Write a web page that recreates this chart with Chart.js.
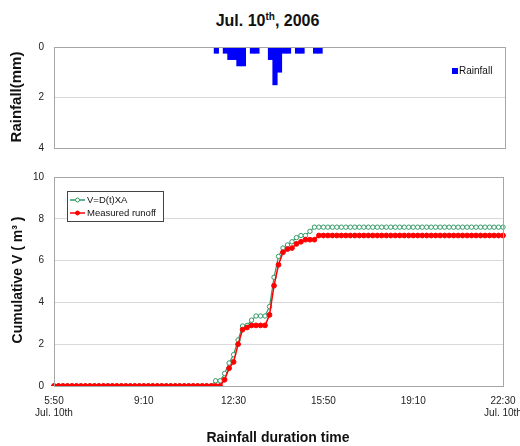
<!DOCTYPE html>
<html>
<head>
<meta charset="utf-8">
<script src="https://cdn.jsdelivr.net/npm/chart.js@4"></script>
<style>
  body { margin: 0; background: #fff; }
  #wrap { position: relative; width: 520px; height: 446px; overflow: hidden; background: #fff;
          font-family: "Liberation Sans", Arial, sans-serif; color: #111; }
  canvas { position: absolute; left: 0; }
  .lbl { position: absolute; white-space: nowrap; font-weight: bold; }
  .rot { transform: translate(-50%, -50%) rotate(-90deg); }
  #title { left: 0; width: 535px; text-align: center; top: 12px; font-size: 16px; line-height: 18px; }
  #title sup { font-size: 10px; vertical-align: 6px; line-height: 0; }
</style>
</head>
<body>
<div id="wrap">
  <div id="title" class="lbl">Jul. 10<sup>th</sup>, 2006</div>
  <canvas id="rainChart" width="520" height="160" style="top:0"></canvas>
  <canvas id="runoffChart" width="520" height="286" style="top:160px"></canvas>
  <div class="lbl rot" style="left:15px; top:97px; font-size:15px;">Rainfall(mm)</div>
  <div class="lbl rot" style="left:17px; top:280px; font-size:14px;">Cumulative V ( m³ )</div>
  <div class="lbl" style="left:278px; top:437px; transform:translate(-50%,-50%); font-size:14px;">Rainfall duration time</div>
</div>
<script>
// 10-minute steps from 5:50 to 22:30 (101 points)
const categories = [];
for (let m = 350; m <= 1350; m += 10) {
    categories.push(Math.floor(m / 60) + ':' + String(m % 60).padStart(2, '0'));
}
const tickLabels = [['5:50', 'Jul. 10th'], '9:10', '12:30', '15:50', '19:10', ['22:30', 'Jul. 10th']];

// Rainfall (mm) per 10 min
const rainfall = [
    0, 0, 0, 0, 0, 0, 0, 0, 0, 0,
    0, 0, 0, 0, 0, 0, 0, 0, 0, 0,
    0, 0, 0, 0, 0, 0, 0, 0, 0, 0,
    0, 0, 0, 0, 0, 0, 0.25, 0, 0.25, 0.5,
    0.5, 0.75, 0.75, 0, 0.25, 0.25, 0, 0, 0.5, 1.5,
    1.0, 0.25, 0.25, 0, 0.25, 0.25, 0, 0, 0.25, 0.25,
    0, 0, 0, 0, 0, 0, 0, 0, 0, 0,
    0, 0, 0, 0, 0, 0, 0, 0, 0, 0,
    0, 0, 0, 0, 0, 0, 0, 0, 0, 0,
    0, 0, 0, 0, 0, 0, 0, 0, 0, 0,
    0
];

// V = D(t) x A
const computedV = [
    0, 0, 0, 0, 0, 0, 0, 0, 0, 0,
    0, 0, 0, 0, 0, 0, 0, 0, 0, 0,
    0, 0, 0, 0, 0, 0, 0, 0, 0, 0,
    0, 0, 0, 0, 0, 0, 0.25, 0.25, 0.6, 1.1,
    1.5, 2.2, 2.87, 2.9, 3.15, 3.35, 3.35, 3.35, 3.8, 5.2,
    6.2, 6.6, 6.75, 6.9, 7.1, 7.2, 7.2, 7.4, 7.6, 7.6,
    7.6, 7.6, 7.6, 7.6, 7.6, 7.6, 7.6, 7.6, 7.6, 7.6,
    7.6, 7.6, 7.6, 7.6, 7.6, 7.6, 7.6, 7.6, 7.6, 7.6,
    7.6, 7.6, 7.6, 7.6, 7.6, 7.6, 7.6, 7.6, 7.6, 7.6,
    7.6, 7.6, 7.6, 7.6, 7.6, 7.6, 7.6, 7.6, 7.6, 7.6,
    7.6
];

// Measured runoff
const measuredV = [
    0, 0, 0, 0, 0, 0, 0, 0, 0, 0,
    0, 0, 0, 0, 0, 0, 0, 0, 0, 0,
    0, 0, 0, 0, 0, 0, 0, 0, 0, 0,
    0, 0, 0, 0, 0, 0, 0, 0, 0.3, 0.85,
    1.15, 2.0, 2.7, 2.8, 2.9, 2.9, 2.9, 2.9, 3.4, 4.8,
    5.8, 6.4, 6.55, 6.6, 6.8, 6.9, 7.0, 7.0, 7.0, 7.2,
    7.2, 7.2, 7.2, 7.2, 7.2, 7.2, 7.2, 7.2, 7.2, 7.2,
    7.2, 7.2, 7.2, 7.2, 7.2, 7.2, 7.2, 7.2, 7.2, 7.2,
    7.2, 7.2, 7.2, 7.2, 7.2, 7.2, 7.2, 7.2, 7.2, 7.2,
    7.2, 7.2, 7.2, 7.2, 7.2, 7.2, 7.2, 7.2, 7.2, 7.2,
    7.2
];

const FONT = '"Liberation Sans", Arial, sans-serif';
const GREEN = '#339966';
const RED = '#ff0000';
const BLUE = '#0000ff';

// plot area frame, like the spreadsheet chart
const frame = {
    id: 'frame',
    afterDraw(chart) {
        const a = chart.chartArea, c = chart.ctx;
        c.save();
        c.strokeStyle = '#a6a6a6';
        c.lineWidth = 1;
        c.strokeRect(Math.round(a.left) + 0.5, Math.round(a.top) + 0.5,
            Math.round(a.right - a.left), Math.round(a.bottom - a.top));
        c.restore();
    }
};

const rainLegend = {
    id: 'rainLegend',
    afterDraw(chart) {
        const c = chart.ctx;
        c.save();
        c.fillStyle = BLUE;
        c.fillRect(452, 68, 6, 6);
        c.fillStyle = '#111';
        c.font = '10px ' + FONT;
        c.textBaseline = 'middle';
        c.fillText('Rainfall', 459, 71.5);
        c.restore();
    }
};

const runoffLegend = {
    id: 'runoffLegend',
    afterDraw(chart) {
        const c = chart.ctx;
        const x = 67, y = 31, w = 96, h = 30;
        c.save();
        c.fillStyle = '#fff';
        c.fillRect(x, y, w, h);
        c.strokeStyle = '#444';
        c.lineWidth = 1;
        c.strokeRect(x + 0.5, y + 0.5, w, h);
        const rows = [
            { text: 'V=D(t)XA', color: GREEN, fill: '#fff', cy: y + 9 },
            { text: 'Measured runoff', color: RED, fill: RED, cy: y + 22 }
        ];
        rows.forEach(r => {
            c.strokeStyle = r.color;
            c.lineWidth = 1.5;
            c.beginPath();
            c.moveTo(x + 3, r.cy);
            c.lineTo(x + 18, r.cy);
            c.stroke();
            c.beginPath();
            c.arc(x + 10.5, r.cy, 2, 0, Math.PI * 2);
            c.fillStyle = r.fill;
            c.fill();
            c.lineWidth = 1;
            c.stroke();
            c.fillStyle = '#111';
            c.font = '9.5px ' + FONT;
            c.textBaseline = 'middle';
            c.fillText(r.text, x + 20, r.cy + 0.5);
        });
        c.restore();
    }
};

const tickFont = { family: FONT, size: 10 };

new Chart(document.getElementById('rainChart'), {
    type: 'bar',
    data: {
        labels: categories,
        datasets: [{
            label: 'Rainfall',
            data: rainfall,
            backgroundColor: BLUE,
            barPercentage: 1,
            categoryPercentage: 1,
            borderWidth: 0
        }]
    },
    options: {
        responsive: false,
        animation: false,
        layout: { padding: { top: 47, bottom: 12, left: 0, right: 15 } },
        plugins: { legend: { display: false }, tooltip: { enabled: false } },
        scales: {
            x: { display: false, offset: false, grid: { display: false } },
            y: {
                reverse: true,
                min: 0,
                max: 4,
                ticks: { stepSize: 2, padding: 10, font: tickFont, color: '#222' },
                grid: { color: '#d9d9d9', drawTicks: false },
                border: { display: false },
                afterFit(s) { s.width = 54; s.paddingTop = 0; s.paddingBottom = 0; }
            }
        }
    },
    plugins: [frame, rainLegend]
});

new Chart(document.getElementById('runoffChart'), {
    type: 'line',
    data: {
        labels: categories,
        datasets: [{
            label: 'V=D(t)XA',
            data: computedV,
            order: 2,
            borderColor: GREEN,
            borderWidth: 1.2,
            pointRadius: 2.2,
            pointBackgroundColor: '#ffffff',
            pointBorderColor: GREEN,
            pointBorderWidth: 1,
            tension: 0
        }, {
            label: 'Measured runoff',
            data: measuredV,
            order: 1,
            borderColor: RED,
            borderWidth: 1.5,
            pointRadius: 2.4,
            pointBackgroundColor: RED,
            pointBorderColor: RED,
            pointBorderWidth: 1,
            tension: 0
        }]
    },
    options: {
        responsive: false,
        animation: false,
        layout: { padding: { top: 17, bottom: 0, left: 0, right: 17 } },
        plugins: { legend: { display: false }, tooltip: { enabled: false } },
        scales: {
            x: {
                offset: false,
                grid: { display: false, drawTicks: false },
                border: { display: false },
                ticks: {
                    autoSkip: false,
                    maxRotation: 0,
                    padding: 9,
                    font: tickFont,
                    color: '#222',
                    callback: (v, i) => (i % 20 === 0 ? tickLabels[i / 20] : null)
                },
                afterFit(s) { s.height = 60; s.paddingLeft = 0; s.paddingRight = 0; }
            },
            y: {
                min: 0,
                max: 10,
                ticks: { stepSize: 2, padding: 10, font: tickFont, color: '#222' },
                grid: { color: '#d9d9d9', drawTicks: false },
                border: { display: false },
                afterFit(s) { s.width = 54; s.paddingTop = 0; s.paddingBottom = 0; }
            }
        }
    },
    plugins: [frame, runoffLegend]
});
</script>
</body>
</html>
